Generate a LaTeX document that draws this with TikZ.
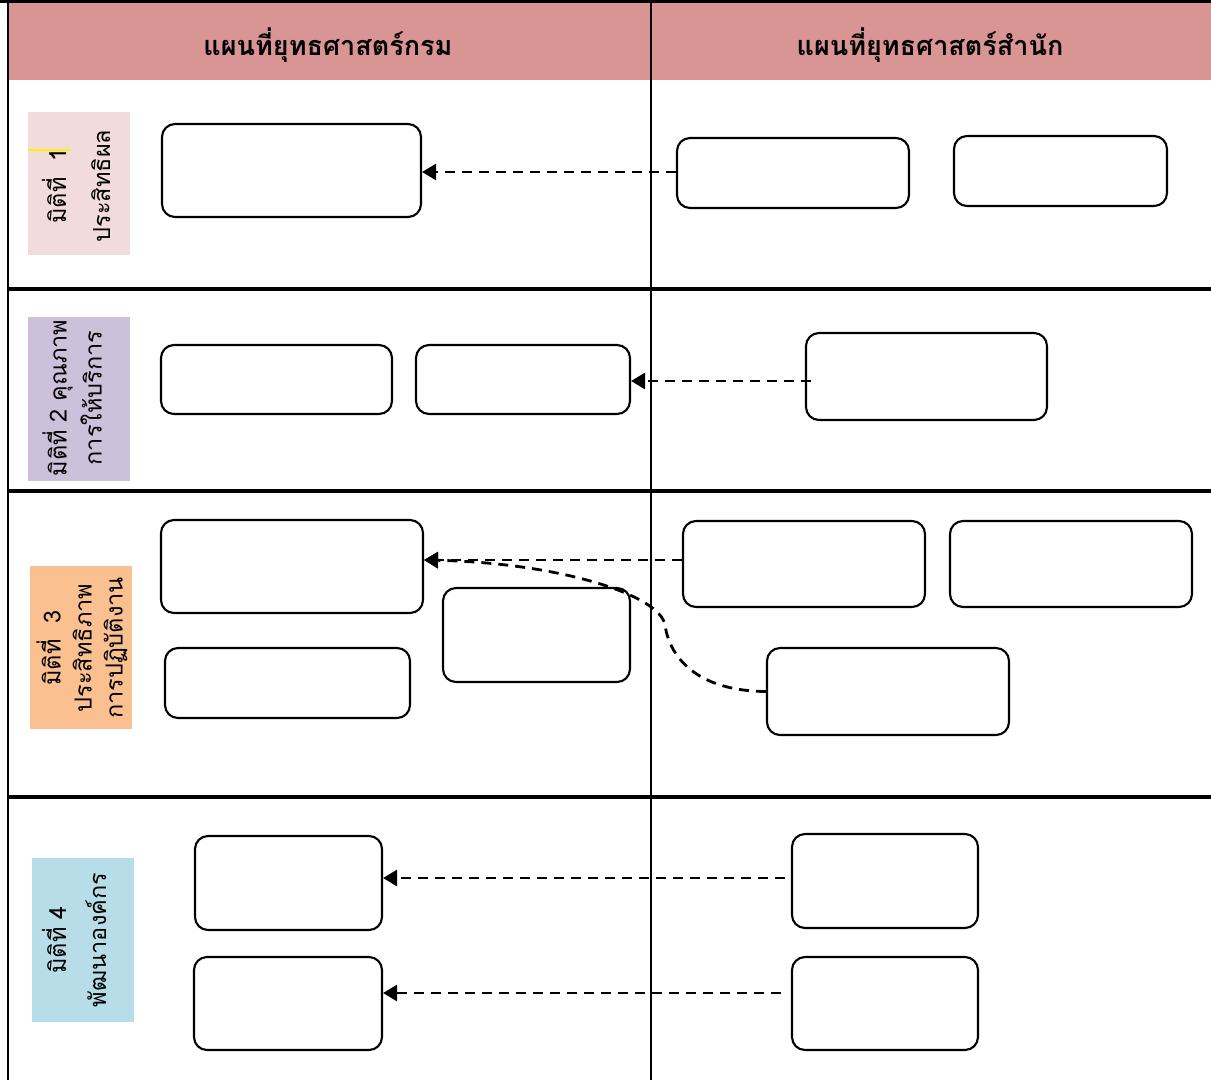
\documentclass[tikz,border=0pt]{standalone}
\usepackage{fontspec}
\newfontfamily\thai[Script=Thai]{Loma}
\usetikzlibrary{arrows.meta}
\definecolor{hdr}{HTML}{D99594}
\definecolor{lab1}{HTML}{F2DBDB}
\definecolor{lab2}{HTML}{CCC0DA}
\definecolor{lab3}{HTML}{FAC090}
\definecolor{lab4}{HTML}{B7DEE8}
\tikzset{
  bx/.style={draw, line width=2.1pt, rounded corners=13pt, inner sep=0pt, fill=white},
  lab/.style={rotate=90, align=center, font=\thai\fontsize{23.5}{30}\selectfont, inner sep=0pt},
  hd/.style={font=\thai\bfseries\fontsize{27}{32}\selectfont},
  dsh/.style={line width=2.8pt, dash pattern=on 10pt off 7pt, -{Triangle[length=14pt,width=16pt]}},
  grid/.style={line width=3.4pt},
  thin/.style={line width=2pt}
}
\begin{document}
\begin{tikzpicture}[x=1pt,y=-1pt]
\useasboundingbox (0,0) rectangle (1211,1080);
% header band
\fill[hdr] (7,3) rectangle (1211,80);
\node[hd] (h1) at (328,45) {แผนที่ยุทธศาสตร์กรม};
\node[hd] (h2) at (930,45) {แผนที่ยุทธศาสตร์สำนัก};
% grid
\draw[grid] (0,1.5) -- (1211,1.5);
\draw[thin] (7.5,0) -- (7.5,1080);
\draw[thin] (651,0) -- (651,1080);
\draw[grid] (7,289) -- (1211,289);
\draw[grid] (7,491) -- (1211,491);
\draw[grid] (7,797) -- (1211,797);
% labels
\fill[lab1] (28,112) rectangle (130,255);
\draw[yellow, line width=1.2pt] (28,150) -- (71,150);
\node[lab] (l1) at (76,186) {มิติที่ \ 1\\[14pt]ประสิทธิผล};
\fill[lab2] (28,317) rectangle (130,481);
\node[lab] (l2) at (72,398) {มิติที่ 2 คุณภาพ\\[5pt]การให้บริการ};
\fill[lab3] (30,566) rectangle (132,729);
\node[lab] (l3) at (82,648) {มิติที่ \ 3\\[1pt]ประสิทธิภาพ\\[1pt]การปฏิบัติงาน};
\fill[lab4] (32,858) rectangle (134,1022);
\node[lab] (l4) at (74,940) {มิติที่ 4\\[10pt]พัฒนาองค์กร};
% boxes row 1
\node[bx, minimum width=259pt, minimum height=93pt] (A1) at (291.5,170.5) {};
\node[bx, minimum width=232pt, minimum height=70pt] (B1a) at (793,173) {};
\node[bx, minimum width=213pt, minimum height=70pt] (B1b) at (1060.5,171) {};
% row 2
\node[bx, minimum width=231pt, minimum height=69pt] (A2a) at (276.5,379.5) {};
\node[bx, minimum width=214pt, minimum height=69pt] (A2b) at (523,379.5) {};
\node[bx, minimum width=241pt, minimum height=87pt] (B2) at (926.5,376.5) {};
% row 3
\node[bx, minimum width=262pt, minimum height=93pt] (A3a) at (292,566.5) {};
\node[bx, minimum width=187pt, minimum height=94pt] (A3b) at (536.5,635) {};
\node[bx, minimum width=245pt, minimum height=70pt] (A3c) at (287.5,683) {};
\node[bx, minimum width=242pt, minimum height=86pt] (B3a) at (804,564) {};
\node[bx, minimum width=242pt, minimum height=86pt] (B3b) at (1071,564) {};
\node[bx, minimum width=242pt, minimum height=87pt] (B3c) at (888,691.5) {};
% row 4
\node[bx, minimum width=187pt, minimum height=94pt] (A4a) at (288.5,883) {};
\node[bx, minimum width=188pt, minimum height=93pt] (A4b) at (288,1003.5) {};
\node[bx, minimum width=186pt, minimum height=94pt] (B4a) at (885,881) {};
\node[bx, minimum width=186pt, minimum height=93pt] (B4b) at (885,1003.5) {};
% connectors
\draw[dsh] ([yshift=1pt]B1a.west) -- ([yshift=1pt]B1a.west -| A1.east);
\draw[dsh] ([xshift=6pt,yshift=-4.5pt]B2.west) -- ([yshift=-4.5pt]B2.west -| A2b.east);
\draw[dsh] ([yshift=4pt]B3a.west) -- ([yshift=4pt]B3a.west -| A3a.east);
\draw[dsh] (B3c.west) .. controls (700,691) and (670,660) .. (665,625)
  .. controls (660,595) and (560,563) .. ([yshift=4pt]B3a.west -| A3a.east);
\draw[dsh] ([xshift=-6pt,yshift=3pt]B4a.west) -- ([yshift=3pt]B4a.west -| A4a.east);
\draw[dsh] ([xshift=-10pt,yshift=10.5pt]B4b.west) -- ([yshift=10.5pt]B4b.west -| A4b.east);
\end{tikzpicture}
\end{document}
